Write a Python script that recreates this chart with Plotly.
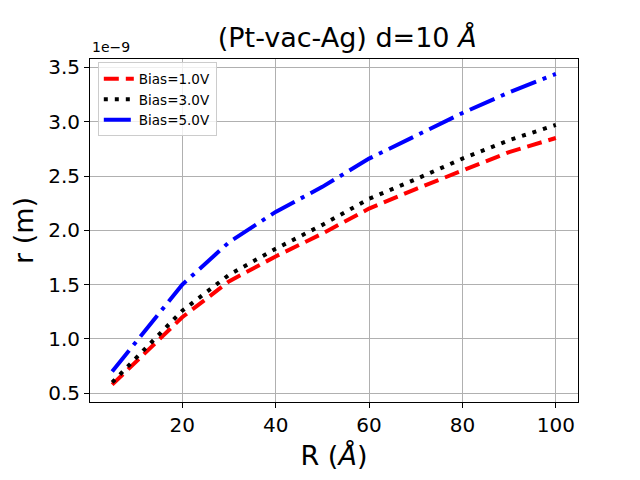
import plotly.graph_objects as go

# R in Angstrom, r in units of 1e-9 m
R = [5, 20, 30, 40, 50, 60, 70, 80, 90, 100]
r_bias1 = [0.58, 1.20, 1.53, 1.76, 1.97, 2.20, 2.38, 2.55, 2.72, 2.85]
r_bias3 = [0.60, 1.26, 1.59, 1.83, 2.05, 2.29, 2.47, 2.66, 2.83, 2.97]
r_bias5 = [0.70, 1.50, 1.89, 2.17, 2.40, 2.66, 2.87, 3.08, 3.27, 3.44]
labels = ['Bias=1.0V', 'Bias=3.0V', 'Bias=5.0V']

font = 'DejaVu Sans'

fig = go.Figure()
fig.add_trace(go.Scatter(x=R, y=r_bias1, mode='lines', name=labels[0],
                         line=dict(color='red', width=4, dash='15px,7px')))
fig.add_trace(go.Scatter(x=R, y=r_bias3, mode='lines', name=labels[1],
                         line=dict(color='black', width=4, dash='4px,7px')))
fig.add_trace(go.Scatter(x=R, y=r_bias5, mode='lines', name=labels[2],
                         line=dict(color='blue', width=4, dash='27px,7px,4px,7px')))

axis = dict(showline=True, mirror=True, linecolor='black', linewidth=1,
            ticks='outside', ticklen=5, tickwidth=1, tickcolor='black',
            showgrid=True, gridcolor='#b0b0b0', gridwidth=1, zeroline=False,
            tickfont=dict(family=font, size=20, color='black'))

# the page puts the figure 8px in from the top-left corner
fig.update_layout(
    width=640, height=480,
    paper_bgcolor='white', plot_bgcolor='white',
    margin=dict(l=78, r=70, t=51, b=86),
    font=dict(family=font, color='black'),
    title=dict(text='(Pt-vac-Ag) d=10 <i>Å</i>', x=0.53, xanchor='center',
               y=0.9375, yanchor='middle', font=dict(size=27, color='black')),
    xaxis=dict(axis, range=[0.25, 104.75], dtick=20,
               title=dict(text='R (<i>Å</i>)', standoff=10,
                          font=dict(size=27, color='black'))),
    yaxis=dict(axis, range=[0.42, 3.577], tick0=0.5, dtick=0.5, tickformat='.1f',
               title=dict(text='r (m)', standoff=9,
                          font=dict(size=27, color='black'))),
    legend=dict(x=0.016, y=0.99, xanchor='left', yanchor='top',
                bgcolor='rgba(255,255,255,0.8)', bordercolor='#cccccc', borderwidth=1,
                font=dict(family=font, size=13.5, color='black'),
                itemwidth=30, tracegroupgap=0),
    showlegend=True,
)

fig.add_annotation(text='1e\u22129', xref='paper', yref='paper', x=0, y=1,
                   xanchor='left', yanchor='bottom', yshift=2, showarrow=False,
                   font=dict(family=font, size=14, color='black'))

fig.write_html("out.html")
